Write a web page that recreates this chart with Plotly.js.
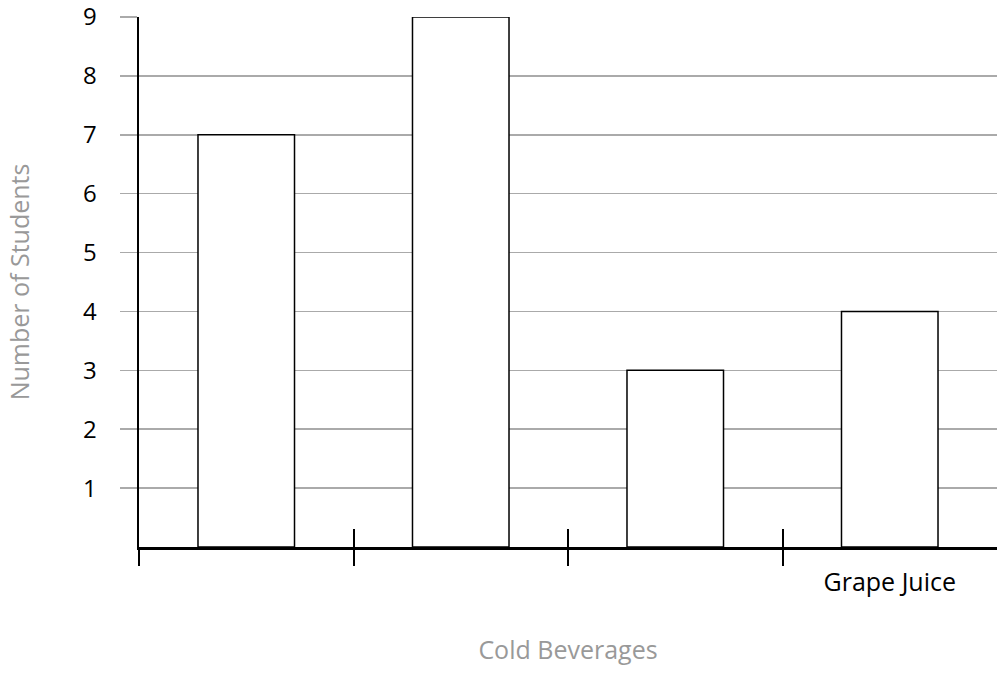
<!DOCTYPE html>
<html>
<head>
<meta charset="utf-8">
<script src="https://cdn.plot.ly/plotly-3.0.1.min.js"></script>
<style>html,body{margin:0;padding:0;background:#fff;}#chart{width:999px;height:691px;}</style>
</head>
<body>
<div id="chart"></div>
<script>
// Data
var categories = ["", "", "", "Grape Juice"];
var values = [7, 9, 3, 4];
var yTickValues = [1, 2, 3, 4, 5, 6, 7, 8, 9];
var yTickLabels = ["1", "2", "3", "4", "5", "6", "7", "8", "9"];

var positions = categories.map(function (c, i) { return i; });
var boundaries = categories.map(function (c, i) { return i - 0.5; });
var xRange = [-0.5, categories.length - 0.5];

var FONT = "'Open Sans', Lato, sans-serif";
var FS = 24;
var TFS = 25;

var trace = {
  type: "bar",
  x: positions,
  y: values,
  width: 0.45,
  marker: { color: "#ffffff", line: { color: "#000000", width: 1.5 } },
  hoverinfo: "y"
};

var layout = {
  width: 999,
  height: 691,
  margin: { l: 139, r: 2, t: 17, b: 144 },
  paper_bgcolor: "#ffffff",
  plot_bgcolor: "#ffffff",
  showlegend: false,
  font: { family: FONT, size: FS, color: "#000000" },
  xaxis: {
    range: xRange,
    tickmode: "array",
    tickvals: positions,
    ticktext: categories,
    ticks: "outside",
    ticklen: 11,
    tickcolor: "rgba(0,0,0,0)",
    showgrid: false,
    zeroline: false,
    showline: true,
    linecolor: "#000000",
    linewidth: 2.5,
    tickfont: { family: FONT, size: TFS, color: "#000000" },
    title: { text: "Cold Beverages", font: { family: FONT, size: TFS, color: "#999999" }, standoff: 45 },
    fixedrange: true
  },
  xaxis2: {
    overlaying: "x",
    anchor: "y",
    side: "bottom",
    range: xRange,
    tickmode: "array",
    tickvals: boundaries,
    ticks: "inside",
    ticklen: 18,
    tickwidth: 2,
    tickcolor: "#000000",
    showticklabels: false,
    showgrid: false,
    zeroline: false,
    showline: false
  },
  xaxis3: {
    overlaying: "x",
    anchor: "y",
    side: "bottom",
    range: xRange,
    tickmode: "array",
    tickvals: boundaries,
    ticks: "outside",
    ticklen: 18,
    tickwidth: 2,
    tickcolor: "#000000",
    showticklabels: false,
    showgrid: false,
    zeroline: false,
    showline: false
  },
  yaxis: {
    range: [0, 9],
    tickmode: "array",
    tickvals: yTickValues,
    ticktext: yTickLabels,
    ticks: "outside",
    ticklen: 17,
    tickwidth: 1.5,
    tickcolor: "#aaaaaa",
    ticklabelstandoff: 18,
    ticklabeloverflow: "allow",
    showgrid: true,
    gridcolor: "#aaaaaa",
    gridwidth: 1.5,
    zeroline: false,
    showline: true,
    linecolor: "#000000",
    linewidth: 2.5,
    tickfont: { family: FONT, size: FS, color: "#000000" },
    title: { text: "Number of Students", font: { family: FONT, size: TFS, color: "#999999" }, standoff: 46 },
    fixedrange: true
  }
};

var dummy2 = { type: "scatter", x: [], y: [], xaxis: "x2", yaxis: "y", hoverinfo: "skip" };
var dummy3 = { type: "scatter", x: [], y: [], xaxis: "x3", yaxis: "y", hoverinfo: "skip" };

Plotly.newPlot("chart", [trace, dummy2, dummy3], layout, { displayModeBar: false, staticPlot: true });
</script>
</body>
</html>
